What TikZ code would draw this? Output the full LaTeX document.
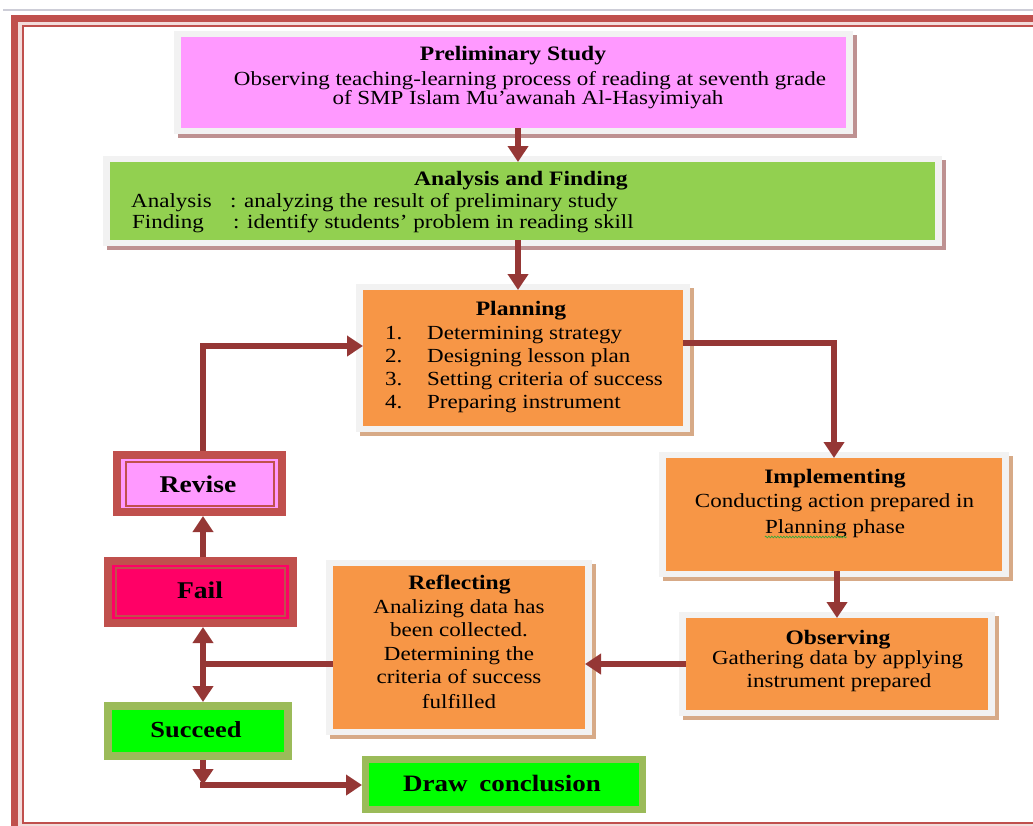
\documentclass[tikz,border=0pt]{standalone}
\usepackage{fontspec}
\setmainfont{Liberation Serif}[FakeStretch=1.15]
\usetikzlibrary{arrows.meta,decorations.pathmorphing,calc}
\definecolor{framered}{HTML}{C0504D}
\definecolor{framepink}{HTML}{F2DCDB}
\definecolor{arrowred}{HTML}{953735}
\definecolor{boxgray}{HTML}{F2F2F2}
\definecolor{pinkfill}{HTML}{FF99FF}
\definecolor{greenfill}{HTML}{92D050}
\definecolor{orangefill}{HTML}{F79646}
\definecolor{rosyshadow}{RGB}{190,145,145}
\definecolor{tanshadow}{RGB}{215,170,135}
\definecolor{failfill}{HTML}{FF0066}
\definecolor{limefill}{HTML}{00FF00}
\definecolor{olivegreen}{HTML}{9BBB59}
\definecolor{topgray}{RGB}{205,205,215}
\definecolor{spellgreen}{RGB}{60,170,60}
\newcommand\bodyfont{\fontsize{20}{24}\selectfont}
\newcommand\ttlfont{\fontsize{20.5}{24}\selectfont\bfseries}
\newcommand\bigfont{\fontsize{24}{28}\selectfont\bfseries}
\tikzset{
  box/.style={inner sep=0pt, outer sep=0pt, draw=none},
  txt/.style={inner sep=0pt, anchor=base, font=\bodyfont},
  txtl/.style={inner sep=0pt, anchor=base west, font=\bodyfont},
  ttl/.style={inner sep=0pt, anchor=base, font=\ttlfont},
  big/.style={inner sep=0pt, anchor=base, font=\bigfont},
  redframe/.style={draw=framered, line width=8pt},
  olframe/.style={draw=olivegreen, line width=8pt},
  thinred/.style={draw=framered, line width=1.5pt},
  arr/.style={draw=arrowred, line width=6pt, -{Triangle[width=20pt,length=16pt]}},
  darr/.style={draw=arrowred, line width=6pt, {Triangle[width=20pt,length=16pt]}-{Triangle[width=20pt,length=16pt]}},
  plain/.style={draw=arrowred, line width=6pt},
}
% name, x1, y1, x2, y2 (coloured area), fill, shadow colour
\newcommand\mkbox[7]{%
  \fill[#7] ({#2-3},{#3-2}) rectangle ({#4+11},{#5+10});
  \fill[boxgray] ({#2-7},{#3-6}) rectangle ({#4+7},{#5+6});
  \node[box, fill=#6, minimum width={#4-#2}, minimum height={#5-#3}] (#1) at ({(#2+#4)/2},{(#3+#5)/2}) {};
}
\begin{document}
\begin{tikzpicture}[x=1pt,y=-1pt]
\useasboundingbox (0,0) rectangle (1033,825);
% page frame
\draw[topgray, line width=1.5pt] (3,10) -- (1033,10);
\draw[framepink, line width=5pt] (20,23.5) rectangle (1045,826);
\draw[framered, line width=7pt] (14.5,18.5) rectangle (1050,831);
\draw[framered, line width=2pt] (23,26) rectangle (1040,822.5);

% shadowed boxes
\mkbox{prelim}{181}{37}{846}{128}{pinkfill}{rosyshadow}
\mkbox{analysis}{110}{162}{935}{240}{greenfill}{rosyshadow}
\mkbox{plan}{363}{290}{683}{426}{orangefill}{tanshadow}
\mkbox{impl}{666}{458}{1002}{571}{orangefill}{tanshadow}
\mkbox{obs}{686}{618}{988}{710}{orangefill}{tanshadow}
\mkbox{refl}{333}{566}{585}{729}{orangefill}{tanshadow}

% framed boxes on the left
\node[box, redframe, fill=pinkfill, outer sep=4pt, minimum width=165pt, minimum height=57pt] (revise) at (199.5,483.5) {};
\draw[thinred] (126,462) rectangle (274,506);
\node[box, redframe, fill=failfill, outer sep=4pt, minimum width=185pt, minimum height=62pt] (fail) at (200.5,592) {};
\draw[thinred] (116,568) rectangle (285,616);
\node[box, olframe, fill=limefill, outer sep=4pt, minimum width=180pt, minimum height=50pt] (succeed) at (198,731) {};
\node[box, olframe, line width=7pt, fill=limefill, outer sep=3.5pt, minimum width=277pt, minimum height=50pt] (conclusion) at (504,784.5) {};

% texts
\node[ttl] (p0) at (513,60) {Preliminary Study};
\node[txt] (p1) at (530,85) {Observing teaching-learning process of reading at seventh grade};
\node[txt] (p2) at (528,104) {of SMP Islam Mu’awanah Al-Hasyimiyah};

\node[ttl] (a0) at (521,185) {Analysis and Finding};
\node[txtl] (a1) at (131,207) {\makebox[99pt][l]{Analysis}: analyzing the result of preliminary study};
\node[txtl] (a2) at (132,228) {\makebox[101pt][l]{Finding}: identify students’ problem in reading skill};

\node[ttl] (l0) at (521,315) {Planning};
\node[txtl] (n1) at (385,339) {1.};
\node[txtl] (l1) at (427,339) {Determining strategy};
\node[txtl] (n2) at (385,362) {2.};
\node[txtl] (l2) at (427,362) {Designing lesson plan};
\node[txtl] (n3) at (385,385) {3.};
\node[txtl] (l3) at (427,385) {Setting criteria of success};
\node[txtl] (n4) at (385,408) {4.};
\node[txtl] (l4) at (427,408) {Preparing instrument};

\node[ttl] (i0) at (835,483) {Implementing};
\node[txt] (i1) at (834.5,507) {Conducting action prepared in};
\node[txt] (i2) at (835,533) {Planning phase};
\draw[spellgreen, line width=0.7pt, decorate, decoration={snake, amplitude=0.9pt, segment length=3pt}]
  ($(i2.base west)+(0,4)$) -- ($(i2.base west)+(82,4)$);

\node[ttl] (o0) at (838,644) {Observing};
\node[txt] (o1) at (837.5,664) {Gathering data by applying};
\node[txt] (o2) at (839,687) {instrument prepared};

\node[ttl] (r0) at (459.5,589) {Reflecting};
\node[txt] (r1) at (459,613) {Analizing data has};
\node[txt] (r2) at (459,636) {been collected.};
\node[txt] (r3) at (459,660) {Determining the};
\node[txt] (r4) at (459,683) {criteria of success};
\node[txt] (r5) at (459,708) {fulfilled};

\node[big] (tfail) at (200,598) {Fail};
\node[big] (trev) at (198,492) {Revise};
\node[big, font=\fontsize{23}{27}\selectfont\bfseries] (tsuc) at (196,737) {Succeed};
\node[big, font=\fontsize{23.5}{27}\selectfont\bfseries] (tcon) at (502,791) {Draw\enspace conclusion};

% connectors
\coordinate (ax) at (518,0);
\coordinate (vx) at (203,0);
\coordinate (ly) at (0,346);
\coordinate (ry) at (0,343);
\coordinate (cj) at (203,785);
\draw[arr] (prelim.south -| ax) -- (analysis.north -| ax);
\draw[arr] (analysis.south -| ax) -- (plan.north -| ax);
\draw[arr] (revise.north -| vx) |- (plan.west |- ly);
\draw[arr] (plan.east |- ry) -| (impl.north);
\draw[arr] (impl.south -| obs.north) -- (obs.north);
\draw[arr] (obs.west) -- (obs.west -| refl.east);
\draw[plain] (refl.west |- obs.west) -- (vx |- obs.west);
\draw[darr] (fail.south -| vx) -- (succeed.north -| vx);
\draw[arr] (fail.north -| vx) -- (revise.south -| vx);
\draw[arr] (succeed.south -| vx) -- (cj);
\draw[arr] ([xshift=-3pt]cj) -- (conclusion.west |- cj);
\end{tikzpicture}
\end{document}
